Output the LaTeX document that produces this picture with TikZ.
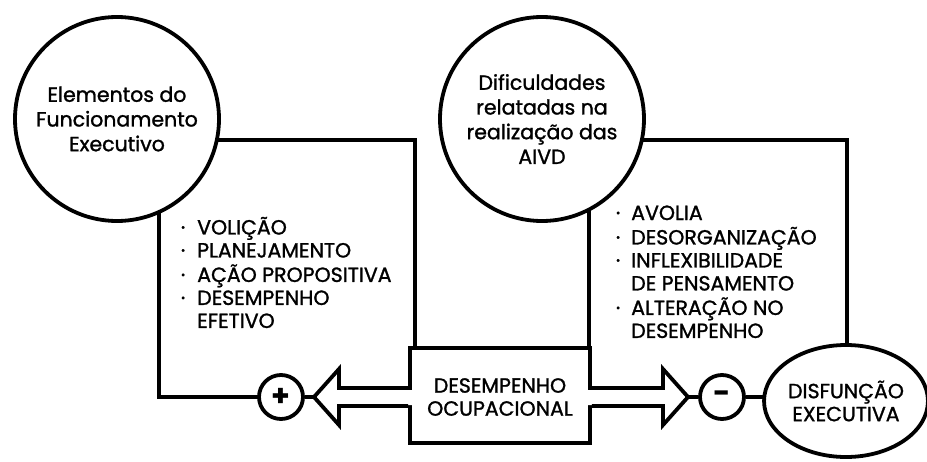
\documentclass[tikz,border=0pt]{standalone}
\usepackage{fontspec}
\setmainfont{Poppins}[UprightFeatures={FakeBold=1.3}]
\usetikzlibrary{shapes.geometric,calc}
\begin{document}
\begin{tikzpicture}[x=1pt,y=-1pt,line width=3.8pt,line join=miter,
  bigcirc/.style={circle,draw,fill=white,minimum size=204pt,inner sep=0pt,align=center,
    font=\fontsize{20.5}{24.7}\selectfont},
  signcirc/.style={circle,draw,fill=white,minimum size=44pt,inner sep=0pt,
    font=\fontsize{30}{30}\selectfont\bfseries},
  listtxt/.style={anchor=north west,inner sep=0pt,font=\fontsize{20.5}{23}\selectfont},
  boxtxt/.style={align=center,font=\fontsize{20.5}{23}\selectfont}]
\useasboundingbox (0,0) rectangle (927,461);
\fill[white] (0,0) rectangle (927,461);
% named points
\coordinate (lbtr) at (415,348);
\coordinate (rbtl) at (589,348);
\coordinate (ltip) at (314,397);
\coordinate (rtip) at (688,397);
% frames
\draw (lbtr) -- (415,140) -- (159,140) -- (159,397) -- (280,397);
\draw (rbtl) -- (589,140) -- (847,140) -- (847,350);
% central box
\node[draw,fill=white,minimum width=180pt,minimum height=95pt,inner sep=0pt] (cbox) at (500,395.5) {};
\node[boxtxt] (ctext) at (500,397) {DESEMPENHO\\OCUPACIONAL};
% left arrow
\fill[white] (413,390) -- (339,390) -- (339,370) -- (ltip) -- (339,424) -- (339,405) -- (413,405) -- cycle;
\draw (cbox.west |- 0,388) -- (339,388) -- (339,369) -- (ltip) -- (339,425) -- (339,406) -- (cbox.west |- 0,406);
% right arrow
\fill[white] (587,390) -- (663,390) -- (663,370) -- (rtip) -- (663,424) -- (663,405) -- (587,405) -- cycle;
\draw (cbox.east |- 0,388) -- (663,388) -- (663,369) -- (rtip) -- (663,425) -- (663,406) -- (cbox.east |- 0,406);
% signs
\node[signcirc] (plus) at (281,397) {+};
\node[signcirc] (minus) at (722,397) {-};
\draw (plus.east) -- (ltip);
\draw (rtip) -- (minus.west);
\draw (minus.east) -- (780,397);
% big circles
\node[bigcirc] (fe) at (117,119) {Elementos do\\Funcionamento\\Executivo};
\node[bigcirc] (dif) at (542,119) {Dificuldades\\relatadas na\\realização das\\AIVD};
% ellipse
\node[ellipse,draw,fill=white,minimum width=162pt,minimum height=112pt,inner sep=0pt,
  boxtxt] (dis) at (846,401) {DISFUNÇÃO\\EXECUTIVA};
% lists
\node[listtxt] (llist) at (179,215) {\begin{tabular}{@{}l@{\hspace{12pt}}l@{}}
·&VOLIÇÃO\\
·&PLANEJAMENTO\\
·&AÇÃO PROPOSITIVA\\
·&DESEMPENHO\\
&EFETIVO
\end{tabular}};
\node[listtxt] (rlist) at (614,202) {\begin{tabular}{@{}l@{\hspace{11pt}}l@{}}
·&AVOLIA\\
·&DESORGANIZAÇÃO\\
·&INFLEXIBILIDADE\\
&DE PENSAMENTO\\
·&ALTERAÇÃO NO\\
&DESEMPENHO
\end{tabular}};
\end{tikzpicture}
\end{document}
